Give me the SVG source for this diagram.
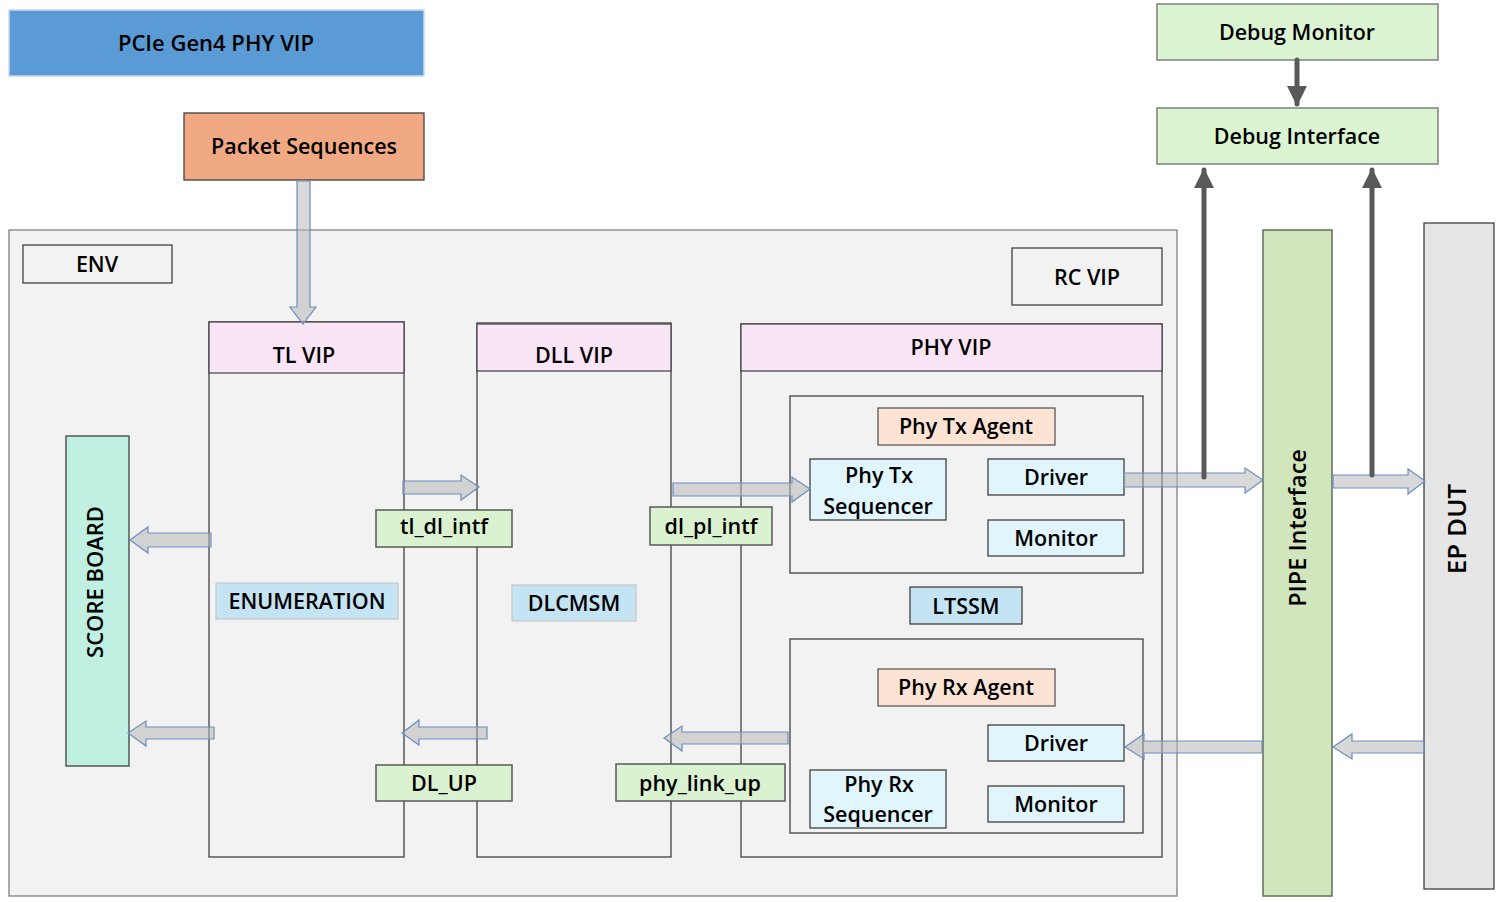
<svg xmlns="http://www.w3.org/2000/svg" width="1502" height="902" viewBox="0 0 1502 902">
<defs>
<style>
text{font-family:"Open Sans","Liberation Sans",sans-serif;font-weight:600;font-size:21.5px;fill:#000;text-anchor:middle}
.box{stroke:#404040;stroke-width:1.3}
.env{fill:#f2f2f2;stroke:#7f7f7f;stroke-width:1.3}
.plain{fill:#f2f2f2;stroke:#404040;stroke-width:1.3}
.hdr{fill:#fae5f7;stroke:#404040;stroke-width:1.2}
.grn{fill:#daf2d0;stroke:#595959;stroke-width:1.5}
.blu{fill:#e0f5fc;stroke:#404040;stroke-width:1.3}
.sm{fill:#c4e4f4;stroke:#c8c8c8;stroke-width:1.3}
.peach{fill:#fce3d4;stroke:#595959;stroke-width:1.3}
.dbg{fill:#dbf5d3;stroke:#7f7f7f;stroke-width:1.5}
.blk{fill:#b8b8b8;fill-opacity:0.55;stroke:#6c8ebf;stroke-width:1.2}
.dk{stroke:#595959;stroke-width:5;stroke-linecap:round;fill:none}
</style>
<marker id="ah" viewBox="0 0 10 10" refX="9" refY="5" markerWidth="4" markerHeight="4" orient="auto" markerUnits="strokeWidth">
<path d="M0,0 L10,5 L0,10 Z" fill="#595959"/>
</marker>
</defs>
<rect width="1502" height="902" fill="#ffffff"/>

<g id="title"><rect x="9" y="10" width="415" height="66" fill="#5b9bd5" stroke="#c9d9ea" stroke-width="1.5"/><text x="216" y="51" style="font-size:22px">PCIe Gen4 PHY VIP</text></g>
<g id="packet-sequences"><rect x="184" y="113" width="240" height="67" fill="#f1a983" class="box"/><text x="304" y="154">Packet Sequences</text></g>

<g id="debug-monitor"><rect x="1157" y="4" width="281" height="56" class="dbg"/><text x="1297" y="40">Debug Monitor</text></g>
<g id="debug-interface"><rect x="1157" y="108" width="281" height="56" class="dbg"/><text x="1297" y="144">Debug Interface</text></g>

<g id="env"><rect x="9" y="230" width="1168" height="666" class="env"/>
<rect x="23" y="245" width="149" height="38" class="plain"/><text x="97" y="272">ENV</text></g>
<g id="rc-vip"><rect x="1012" y="248" width="150" height="57" class="plain"/><text x="1087" y="285">RC VIP</text></g>

<g id="tl-vip"><rect x="209" y="322" width="195" height="535" class="plain"/><rect x="209" y="322" width="195" height="51" class="hdr"/><text x="304" y="363">TL VIP</text></g>
<g id="dll-vip"><rect x="477" y="323" width="194" height="534" class="plain"/><rect x="477" y="324" width="194" height="47" class="hdr"/><text x="574" y="363">DLL VIP</text></g>
<g id="phy-vip"><rect x="741" y="324" width="421" height="533" class="plain"/><rect x="741" y="324" width="421" height="47" class="hdr"/><text x="951" y="355">PHY VIP</text></g>

<g id="scoreboard"><rect x="66" y="436" width="63" height="330" fill="#bff0e1" class="box"/><text transform="translate(103,582) rotate(-90)" style="font-size:22px">SCORE BOARD</text></g>
<g id="enumeration"><rect x="216" y="583" width="182" height="36" class="sm"/><text x="307" y="609">ENUMERATION</text></g>
<g id="dlcmsm"><rect x="512" y="585" width="124" height="36" class="sm"/><text x="574" y="611">DLCMSM</text></g>
<g id="ltssm"><rect x="910" y="587" width="112" height="37" fill="#c4e4f4" class="box"/><text x="966" y="614">LTSSM</text></g>

<g id="phy-tx-agent"><rect x="790" y="396" width="353" height="177" class="plain"/>
<rect x="878" y="408" width="177" height="37" class="peach"/><text x="966" y="434">Phy Tx Agent</text></g>
<g id="phy-tx-sequencer"><rect x="810" y="459" width="136" height="61" class="blu"/><text x="879" y="483">Phy Tx</text><text x="878" y="514">Sequencer</text></g>
<g id="tx-driver"><rect x="988" y="459" width="136" height="36" class="blu"/><text x="1056" y="485">Driver</text></g>
<g id="tx-monitor"><rect x="988" y="520" width="136" height="36" class="blu"/><text x="1056" y="546">Monitor</text></g>

<g id="phy-rx-agent"><rect x="790" y="639" width="353" height="194" class="plain"/>
<rect x="878" y="669" width="177" height="37" class="peach"/><text x="966" y="695">Phy Rx Agent</text></g>
<g id="rx-driver"><rect x="988" y="725" width="136" height="36" class="blu"/><text x="1056" y="751">Driver</text></g>
<g id="phy-rx-sequencer"><rect x="810" y="770" width="136" height="58" class="blu"/><text x="879" y="792">Phy Rx</text><text x="878" y="822">Sequencer</text></g>
<g id="rx-monitor"><rect x="988" y="786" width="136" height="36" class="blu"/><text x="1056" y="812">Monitor</text></g>

<g id="pipe-interface"><rect x="1263" y="230" width="69" height="666" fill="#d2e6bd" stroke="#5f6f55" stroke-width="1.5"/><text transform="translate(1306,528) rotate(-90)" style="font-size:23.5px">PIPE Interface</text></g>
<g id="ep-dut"><rect x="1424" y="223" width="70" height="666" fill="#e6e6e6" stroke="#404040" stroke-width="1.3"/><text transform="translate(1466,529) rotate(-90)" style="font-size:26px">EP DUT</text></g>

<g id="connectors">
<path class="blk" d="M297,181 L310,181 L310,307 L316,307 L303,324 L290,307 L297,307 Z"/>
<path class="blk" d="M403,481 L461,481 L461,475 L479,487 L461,500 L461,494 L403,494 Z"/>
<path class="blk" d="M673,483 L792,483 L792,477 L810,489 L792,502 L792,496 L673,496 Z"/>
<path class="blk" d="M1124,473 L1245,473 L1245,468 L1263,480 L1245,493 L1245,487 L1124,487 Z"/>
<path class="blk" d="M1333,475 L1408,475 L1408,469 L1425,481 L1408,494 L1408,488 L1333,488 Z"/>
<path class="blk" d="M1262,741 L1144,741 L1144,734 L1125,747 L1144,759 L1144,753 L1262,753 Z"/>
<path class="blk" d="M1424,741 L1352,741 L1352,734 L1333,747 L1352,759 L1352,753 L1424,753 Z"/>
<path class="blk" d="M788,732 L682,732 L682,726 L664,738 L682,751 L682,744 L788,744 Z"/>
<path class="blk" d="M487,727 L419,727 L419,720 L402,733 L419,745 L419,739 L487,739 Z"/>
<path class="blk" d="M211,533 L148,533 L148,527 L130,540 L148,553 L148,547 L211,547 Z"/>
<path class="blk" d="M214,727 L146,727 L146,721 L128,733 L146,746 L146,739 L214,739 Z"/>
<line class="dk" x1="1297" y1="60" x2="1297" y2="104" marker-end="url(#ah)"/>
<line class="dk" x1="1204" y1="477" x2="1204" y2="170" marker-end="url(#ah)"/>
<line class="dk" x1="1372" y1="475" x2="1372" y2="170" marker-end="url(#ah)"/>
</g>

<g id="labels">
<g id="tl-dl-intf"><rect x="376" y="510" width="136" height="37" class="grn"/><text x="444" y="534">tl_dl_intf</text></g>
<g id="dl-pl-intf"><rect x="650" y="507" width="122" height="38" class="grn"/><text x="711" y="534">dl_pl_intf</text></g>
<g id="dl-up"><rect x="376" y="765" width="136" height="36" class="grn"/><text x="444" y="791">DL_UP</text></g>
<g id="phy-link-up"><rect x="616" y="764" width="169" height="37" class="grn"/><text x="700" y="791">phy_link_up</text></g>
</g>
</svg>
